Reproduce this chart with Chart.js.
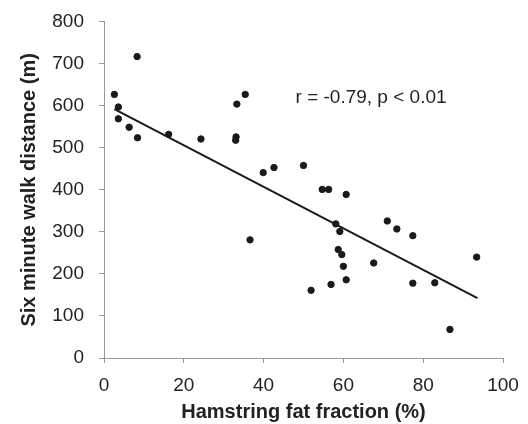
<!DOCTYPE html>
<html>
<head>
<meta charset="utf-8">
<script src="https://cdn.jsdelivr.net/npm/chart.js@4"></script>
<style>
  html, body { margin: 0; padding: 0; background: #fff; }
  #wrap { width: 528px; height: 424px; }
</style>
</head>
<body>
<div id="wrap"><canvas id="myChart" width="528" height="424"></canvas></div>
<script>
const fatFraction = [2.6, 3.6, 3.6, 6.3, 8.4, 8.3, 16.2, 24.3, 33.3, 35.4, 33.1, 33.0,
  39.9, 42.6, 50.0, 54.7, 56.3, 36.6, 60.7, 58.1, 59.1, 71.0, 73.4, 77.4,
  58.7, 59.6, 60.0, 67.6, 93.4, 51.9, 56.9, 60.7, 77.4, 82.9, 86.7];
const walkDistance = [627, 597, 569, 549, 524, 717, 532, 521, 604, 627, 526, 518,
  441, 453, 458, 401, 401, 281, 389, 319, 301, 326, 307, 291,
  258, 246, 218, 226, 240, 161, 175, 186, 178, 179, 68];

// trend line end points
const trendX = [2.6, 93.6];
const trendY = [592, 142.5];

const statText = 'r = -0.79, p < 0.01';
const statPos = [48, 618];

const xTitle = 'Hamstring fat fraction (%)';
const yTitle = 'Six minute walk distance (m)';

const points = fatFraction.map((x, i) => ({ x: x, y: walkDistance[i] }));
const trend = trendX.map((x, i) => ({ x: x, y: trendY[i] }));

const FONT = '"Liberation Sans", Arial, sans-serif';

const statLabel = {
  id: 'statLabel',
  afterDatasetsDraw(chart) {
    const { ctx, scales } = chart;
    ctx.save();
    ctx.font = '19px ' + FONT;
    ctx.fillStyle = '#222';
    ctx.textBaseline = 'middle';
    ctx.fillText(statText, scales.x.getPixelForValue(statPos[0]), scales.y.getPixelForValue(statPos[1]));
    ctx.restore();
  }
};

const ctx = document.getElementById('myChart').getContext('2d');

const myChart = new Chart(ctx, {
  type: 'scatter',
  data: {
    datasets: [{
      data: points,
      backgroundColor: '#1a1a1a',
      borderColor: '#1a1a1a',
      pointRadius: 3.2,
      pointHoverRadius: 3.2
    }, {
      type: 'line',
      data: trend,
      borderColor: '#1a1a1a',
      borderWidth: 2,
      pointRadius: 0,
      fill: false
    }]
  },
  options: {
    responsive: false,
    animation: false,
    events: [],
    layout: { padding: { top: 21.7, right: 25, left: 17, bottom: 0 } },
    plugins: {
      legend: { display: false },
      tooltip: { enabled: false }
    },
    scales: {
      x: {
        type: 'linear',
        min: 0,
        max: 100,
        afterFit: (scale) => {
          scale.height = 66;
          scale.paddingLeft = 0;
          scale.paddingRight = 0;
        },
        ticks: {
          stepSize: 20,
          color: '#222',
          font: { family: FONT, size: 19 },
          padding: 11
        },
        grid: { drawOnChartArea: false, color: '#999', tickLength: 5 },
        border: { color: '#999', width: 1 },
        title: {
          display: true,
          text: xTitle,
          color: '#222',
          font: { family: FONT, size: 20, weight: 'bold' },
          padding: { top: 0, bottom: 0 }
        }
      },
      y: {
        min: 0,
        max: 800,
        afterFit: (scale) => {
          scale.width = 87;
          scale.paddingTop = 0;
          scale.paddingBottom = 0;
        },
        ticks: {
          stepSize: 100,
          color: '#222',
          font: { family: FONT, size: 19 },
          padding: 15
        },
        grid: { drawOnChartArea: false, color: '#999', tickLength: 5 },
        border: { color: '#999', width: 1 },
        title: {
          display: true,
          text: yTitle,
          color: '#222',
          font: { family: FONT, size: 20, weight: 'bold' },
          padding: { top: 0, bottom: 0 }
        }
      }
    }
  },
  plugins: [statLabel]
});
</script>
</body>
</html>
